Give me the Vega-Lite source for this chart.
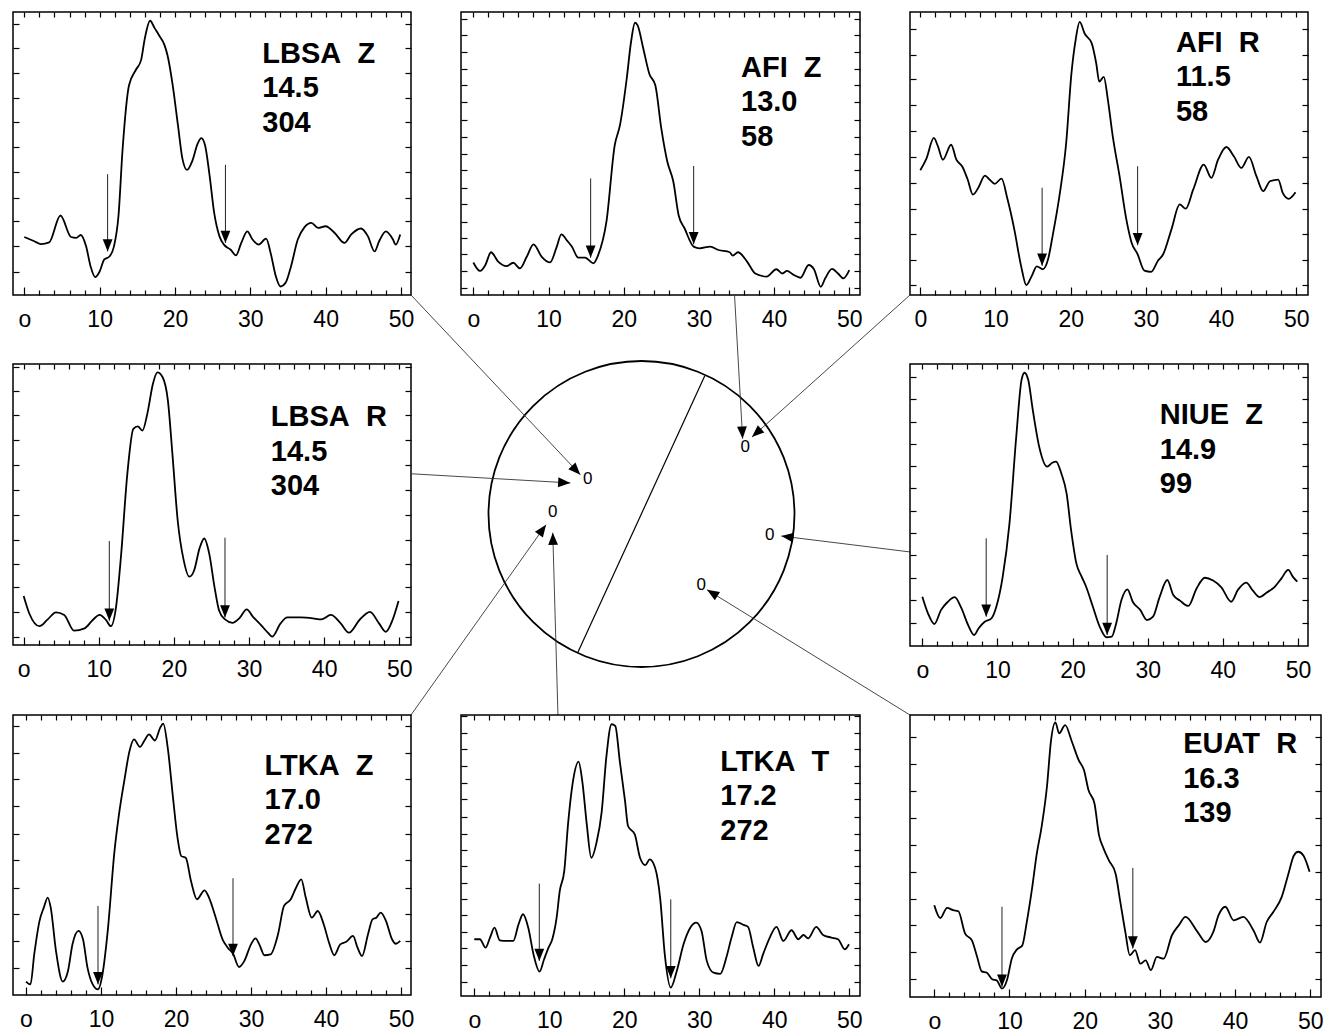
{
"$schema": "https://vega.github.io/schema/vega-lite/v6.json",
"padding": {"left": 11, "top": 10, "right": 5, "bottom": 0},
"background": "white",
"bounds": "flush",
"align": "each",
"columns": 3,
"spacing": {"row": 69, "column": 50},
"config": {
  "view": {"stroke": "black", "strokeWidth": 1.5},
  "axis": {"grid": false, "domain": false, "tickColor": "black", "tickWidth": 1.2, "labelFont": "Liberation Sans", "labelFontSize": 23, "labelColor": "black"}
},
"datasets": {
  "lbsaZ": [{"t":0,"a":20.5},{"t":1.33,"a":19.0},{"t":2.2,"a":18.0},{"t":3.3,"a":18.6},{"t":4.8,"a":28.1},{"t":6.2,"a":20.5},{"t":6.9,"a":20.2},{"t":7.5,"a":21.2},{"t":8.2,"a":17.2},{"t":8.8,"a":10.1},{"t":9.4,"a":6.3},{"t":10.0,"a":8.3},{"t":10.6,"a":12.5},{"t":11.3,"a":13.6},{"t":11.9,"a":17.2},{"t":12.5,"a":27.9},{"t":13.05,"a":51.6},{"t":13.9,"a":74.1},{"t":14.8,"a":79.5},{"t":15.5,"a":83.0},{"t":16.0,"a":90.7},{"t":16.7,"a":96.9},{"t":17.3,"a":94.3},{"t":17.9,"a":91.7},{"t":18.6,"a":88.4},{"t":19.0,"a":84.8},{"t":19.7,"a":74.1},{"t":20.4,"a":59.9},{"t":21.0,"a":48.0},{"t":21.6,"a":44.2},{"t":22.3,"a":47.4},{"t":23.0,"a":53.4},{"t":23.5,"a":55.4},{"t":24.0,"a":52.8},{"t":24.6,"a":42.1},{"t":25.2,"a":29.1},{"t":25.9,"a":20.8},{"t":26.5,"a":17.8},{"t":27.4,"a":16.0},{"t":28.1,"a":14.0},{"t":28.8,"a":18.4},{"t":29.6,"a":22.5},{"t":30.3,"a":19.6},{"t":31.1,"a":17.8},{"t":32.1,"a":19.9},{"t":32.7,"a":14.8},{"t":33.4,"a":6.5},{"t":34.0,"a":3.0},{"t":34.7,"a":4.4},{"t":35.4,"a":10.1},{"t":36.3,"a":19.6},{"t":37.2,"a":24.0},{"t":38.1,"a":25.5},{"t":39.0,"a":23.7},{"t":40.0,"a":24.3},{"t":41.2,"a":21.9},{"t":42.5,"a":18.4},{"t":43.4,"a":21.4},{"t":44.7,"a":23.5},{"t":45.6,"a":20.8},{"t":46.5,"a":15.4},{"t":47.1,"a":19.0},{"t":48.0,"a":22.5},{"t":48.9,"a":19.8},{"t":49.3,"a":17.8},{"t":49.9,"a":21.4}],
  "afiZ": [{"t":0,"a":11.5},{"t":0.9,"a":8.5},{"t":1.6,"a":10.6},{"t":2.35,"a":15.1},{"t":3.3,"a":11.8},{"t":4.4,"a":10.2},{"t":5.3,"a":11.4},{"t":6.2,"a":9.4},{"t":7.1,"a":13.5},{"t":8.0,"a":17.9},{"t":9.1,"a":13.5},{"t":10.2,"a":11.5},{"t":11.1,"a":17.1},{"t":11.7,"a":21.4},{"t":12.5,"a":19.1},{"t":13.1,"a":17.1},{"t":13.96,"a":13.2},{"t":14.85,"a":13.2},{"t":15.96,"a":11.2},{"t":16.6,"a":14.1},{"t":17.7,"a":25.9},{"t":18.8,"a":52.9},{"t":19.5,"a":60.0},{"t":20.4,"a":76.5},{"t":20.97,"a":89.4},{"t":21.5,"a":96.2},{"t":21.85,"a":95.3},{"t":22.6,"a":87.1},{"t":23.4,"a":78.2},{"t":24.2,"a":74.1},{"t":25.0,"a":58.8},{"t":25.8,"a":47.1},{"t":26.6,"a":40.0},{"t":27.3,"a":28.2},{"t":28.1,"a":23.5},{"t":29.3,"a":17.1},{"t":30.1,"a":16.5},{"t":31.5,"a":17.1},{"t":32.6,"a":15.9},{"t":34.1,"a":15.1},{"t":34.5,"a":13.9},{"t":35.2,"a":15.1},{"t":36.4,"a":11.8},{"t":37.5,"a":7.6},{"t":39.0,"a":6.5},{"t":40.3,"a":9.1},{"t":41.1,"a":7.6},{"t":41.7,"a":8.5},{"t":42.6,"a":7.1},{"t":43.5,"a":6.1},{"t":44.6,"a":10.6},{"t":45.3,"a":9.1},{"t":46.2,"a":2.9},{"t":46.8,"a":5.9},{"t":47.7,"a":9.2},{"t":48.5,"a":7.6},{"t":49.2,"a":5.9},{"t":50.0,"a":8.8}],
  "afiR": [{"t":0,"a":44.1},{"t":0.8,"a":48.1},{"t":1.8,"a":55.5},{"t":2.35,"a":52.5},{"t":3.0,"a":47.8},{"t":4.1,"a":53.1},{"t":4.8,"a":47.8},{"t":5.6,"a":45.3},{"t":6.3,"a":40.8},{"t":7.0,"a":35.5},{"t":7.7,"a":37.8},{"t":8.6,"a":42.2},{"t":9.2,"a":40.8},{"t":9.9,"a":39.3},{"t":10.8,"a":41.1},{"t":11.6,"a":33.8},{"t":12.5,"a":23.2},{"t":13.4,"a":10.3},{"t":14.1,"a":3.5},{"t":14.8,"a":6.6},{"t":15.5,"a":10.1},{"t":16.3,"a":9.1},{"t":17.0,"a":12.7},{"t":17.6,"a":20.9},{"t":18.5,"a":34.9},{"t":19.4,"a":53.7},{"t":20.1,"a":78.3},{"t":20.65,"a":90.0},{"t":21.2,"a":96.5},{"t":21.85,"a":92.4},{"t":22.8,"a":88.9},{"t":23.4,"a":81.8},{"t":23.8,"a":75.4},{"t":24.4,"a":77.1},{"t":24.95,"a":68.9},{"t":25.6,"a":56.0},{"t":26.5,"a":42.0},{"t":27.4,"a":26.7},{"t":28.1,"a":18.5},{"t":28.9,"a":14.4},{"t":29.8,"a":8.6},{"t":30.7,"a":8.2},{"t":31.6,"a":12.1},{"t":32.3,"a":14.4},{"t":33.4,"a":23.2},{"t":34.5,"a":32.0},{"t":35.3,"a":30.5},{"t":36.3,"a":37.3},{"t":37.7,"a":46.1},{"t":38.7,"a":41.4},{"t":39.6,"a":47.8},{"t":40.7,"a":52.3},{"t":41.7,"a":49.0},{"t":42.7,"a":44.9},{"t":43.7,"a":48.8},{"t":44.7,"a":42.0},{"t":45.6,"a":36.7},{"t":46.5,"a":40.2},{"t":47.6,"a":40.8},{"t":48.2,"a":36.1},{"t":49.0,"a":34.0},{"t":49.9,"a":36.3}],
  "lbsaR": [{"t":0,"a":17.4},{"t":0.75,"a":11.2},{"t":2.1,"a":6.7},{"t":3.2,"a":9.1},{"t":4.3,"a":11.6},{"t":5.4,"a":10.7},{"t":6.7,"a":5.1},{"t":8.1,"a":5.9},{"t":9.2,"a":8.9},{"t":10.1,"a":10.7},{"t":10.96,"a":8.9},{"t":11.6,"a":6.7},{"t":12.3,"a":13.6},{"t":12.95,"a":31.4},{"t":13.8,"a":60.9},{"t":14.6,"a":76.9},{"t":15.2,"a":77.8},{"t":15.8,"a":76.3},{"t":16.5,"a":82.8},{"t":17.2,"a":92.9},{"t":17.8,"a":97.0},{"t":18.5,"a":95.3},{"t":19.2,"a":87.0},{"t":19.8,"a":68.0},{"t":20.5,"a":44.4},{"t":21.3,"a":30.2},{"t":22.05,"a":24.3},{"t":22.7,"a":26.6},{"t":23.4,"a":34.3},{"t":24.04,"a":37.9},{"t":24.7,"a":32.5},{"t":25.4,"a":20.7},{"t":26.0,"a":12.4},{"t":26.8,"a":9.1},{"t":27.8,"a":7.9},{"t":28.7,"a":9.5},{"t":29.7,"a":12.7},{"t":30.5,"a":10.1},{"t":31.6,"a":7.1},{"t":32.5,"a":4.4},{"t":33.1,"a":3.0},{"t":34.2,"a":7.7},{"t":35.1,"a":9.8},{"t":36.9,"a":9.8},{"t":38.5,"a":9.5},{"t":39.6,"a":9.1},{"t":40.9,"a":10.7},{"t":42.2,"a":7.7},{"t":43.3,"a":4.4},{"t":44.7,"a":8.9},{"t":46.1,"a":11.8},{"t":47.3,"a":7.7},{"t":48.2,"a":4.7},{"t":49.1,"a":8.9},{"t":49.9,"a":15.7}],
  "niueZ": [{"t":0,"a":17.5},{"t":0.75,"a":11.6},{"t":1.6,"a":7.8},{"t":2.5,"a":12.8},{"t":3.4,"a":15.7},{"t":4.3,"a":17.3},{"t":5.2,"a":13.4},{"t":6.1,"a":7.4},{"t":6.9,"a":3.9},{"t":7.5,"a":6.3},{"t":8.3,"a":8.6},{"t":9.2,"a":9.8},{"t":9.85,"a":13.9},{"t":10.7,"a":24.6},{"t":11.6,"a":43.5},{"t":12.5,"a":74.2},{"t":13.2,"a":94.3},{"t":13.6,"a":96.9},{"t":14.1,"a":94.3},{"t":14.7,"a":83.7},{"t":15.6,"a":70.1},{"t":16.6,"a":63.6},{"t":17.3,"a":65.0},{"t":17.8,"a":65.4},{"t":18.5,"a":61.2},{"t":19.2,"a":54.1},{"t":19.8,"a":41.1},{"t":20.5,"a":29.3},{"t":21.2,"a":24.6},{"t":21.8,"a":21.0},{"t":22.7,"a":13.9},{"t":23.6,"a":6.9},{"t":24.5,"a":3.1},{"t":25.2,"a":3.3},{"t":25.8,"a":8.0},{"t":26.5,"a":16.3},{"t":27.3,"a":20.1},{"t":28.0,"a":15.7},{"t":29.0,"a":12.8},{"t":29.9,"a":9.2},{"t":30.7,"a":10.4},{"t":31.6,"a":17.5},{"t":32.6,"a":23.4},{"t":33.4,"a":18.1},{"t":34.3,"a":16.1},{"t":35.4,"a":14.2},{"t":36.5,"a":20.4},{"t":37.6,"a":24.2},{"t":38.7,"a":23.2},{"t":39.8,"a":20.8},{"t":41.1,"a":15.7},{"t":42.0,"a":19.9},{"t":43.1,"a":22.5},{"t":44.0,"a":19.6},{"t":44.9,"a":17.3},{"t":45.8,"a":18.9},{"t":46.9,"a":21.0},{"t":47.8,"a":24.0},{"t":48.7,"a":27.0},{"t":49.3,"a":24.6},{"t":49.9,"a":22.8}],
  "ltkaZ": [{"t":0,"a":4.8},{"t":0.6,"a":3.8},{"t":1.1,"a":14.5},{"t":1.8,"a":26.4},{"t":2.4,"a":31.4},{"t":2.9,"a":34.8},{"t":3.3,"a":31.2},{"t":4.0,"a":15.7},{"t":4.9,"a":4.8},{"t":5.6,"a":8.6},{"t":6.2,"a":18.1},{"t":7.0,"a":22.9},{"t":7.6,"a":19.9},{"t":8.2,"a":9.8},{"t":8.9,"a":3.8},{"t":9.6,"a":2.0},{"t":10.2,"a":7.4},{"t":10.9,"a":22.9},{"t":11.8,"a":51.4},{"t":12.4,"a":64.5},{"t":13.1,"a":76.4},{"t":13.8,"a":87.1},{"t":14.4,"a":91.3},{"t":15.2,"a":88.6},{"t":15.8,"a":90.9},{"t":16.4,"a":93.1},{"t":17.2,"a":90.9},{"t":17.9,"a":95.5},{"t":18.3,"a":96.9},{"t":18.9,"a":88.3},{"t":19.6,"a":70.5},{"t":20.2,"a":56.2},{"t":20.7,"a":49.6},{"t":21.3,"a":49.0},{"t":22.0,"a":40.7},{"t":22.8,"a":34.2},{"t":23.8,"a":37.4},{"t":24.4,"a":34.8},{"t":25.3,"a":27.6},{"t":26.2,"a":19.9},{"t":26.9,"a":16.9},{"t":27.6,"a":14.8},{"t":28.4,"a":10.0},{"t":29.1,"a":12.1},{"t":30.0,"a":18.1},{"t":30.6,"a":20.2},{"t":31.1,"a":18.1},{"t":31.8,"a":14.2},{"t":32.6,"a":14.5},{"t":33.6,"a":21.7},{"t":34.4,"a":31.8},{"t":35.3,"a":34.2},{"t":36.0,"a":38.3},{"t":36.7,"a":41.3},{"t":37.3,"a":34.8},{"t":38.1,"a":27.6},{"t":38.9,"a":30.0},{"t":39.7,"a":25.2},{"t":40.4,"a":18.7},{"t":41.1,"a":14.2},{"t":41.9,"a":18.1},{"t":42.7,"a":19.0},{"t":43.6,"a":21.1},{"t":44.2,"a":16.9},{"t":44.8,"a":13.9},{"t":45.6,"a":21.7},{"t":46.2,"a":27.0},{"t":46.7,"a":27.6},{"t":47.3,"a":29.4},{"t":48.0,"a":26.4},{"t":48.8,"a":19.9},{"t":49.3,"a":18.3},{"t":49.9,"a":19.3}],
  "ltkaT": [{"t":0,"a":20.2},{"t":0.75,"a":20.2},{"t":1.5,"a":17.2},{"t":2.1,"a":20.8},{"t":2.7,"a":24.3},{"t":3.4,"a":19.8},{"t":4.3,"a":19.6},{"t":5.2,"a":19.6},{"t":5.9,"a":25.5},{"t":6.5,"a":29.1},{"t":7.2,"a":24.3},{"t":7.9,"a":14.8},{"t":8.7,"a":8.7},{"t":9.3,"a":13.0},{"t":9.9,"a":17.2},{"t":10.4,"a":20.2},{"t":10.98,"a":27.9},{"t":11.4,"a":37.4},{"t":12.0,"a":44.5},{"t":12.5,"a":61.1},{"t":13.2,"a":77.1},{"t":13.9,"a":83.4},{"t":14.4,"a":76.5},{"t":15.0,"a":61.1},{"t":15.6,"a":49.2},{"t":16.3,"a":54.6},{"t":17.0,"a":65.8},{"t":17.6,"a":84.8},{"t":18.3,"a":96.7},{"t":18.8,"a":96.1},{"t":19.4,"a":83.6},{"t":20.1,"a":69.4},{"t":20.5,"a":60.5},{"t":21.4,"a":57.5},{"t":22.1,"a":49.2},{"t":22.8,"a":46.6},{"t":23.4,"a":48.6},{"t":24.1,"a":45.7},{"t":24.8,"a":34.4},{"t":25.4,"a":14.8},{"t":26.2,"a":3.0},{"t":27.0,"a":8.9},{"t":27.9,"a":18.4},{"t":28.8,"a":24.3},{"t":29.6,"a":26.1},{"t":30.3,"a":23.1},{"t":31.0,"a":12.5},{"t":31.9,"a":8.3},{"t":32.8,"a":7.9},{"t":33.6,"a":13.6},{"t":34.3,"a":20.8},{"t":35.0,"a":26.3},{"t":35.9,"a":25.3},{"t":36.5,"a":24.6},{"t":37.2,"a":17.2},{"t":37.9,"a":10.7},{"t":38.5,"a":14.8},{"t":39.4,"a":20.8},{"t":40.3,"a":24.6},{"t":41.2,"a":19.6},{"t":42.3,"a":23.4},{"t":43.2,"a":20.2},{"t":43.9,"a":21.7},{"t":44.5,"a":20.5},{"t":45.6,"a":24.6},{"t":46.5,"a":21.7},{"t":47.6,"a":20.8},{"t":48.5,"a":20.2},{"t":49.4,"a":16.6},{"t":49.96,"a":18.4}],
  "euatR": [{"t":0,"a":32.5},{"t":0.8,"a":28.0},{"t":1.7,"a":31.6},{"t":2.5,"a":30.8},{"t":3.2,"a":30.4},{"t":4.1,"a":22.5},{"t":5.0,"a":20.1},{"t":5.7,"a":14.2},{"t":6.3,"a":9.1},{"t":7.0,"a":8.6},{"t":7.7,"a":6.3},{"t":8.3,"a":5.9},{"t":9.0,"a":3.0},{"t":9.7,"a":6.3},{"t":10.3,"a":13.6},{"t":11.0,"a":16.9},{"t":11.7,"a":18.3},{"t":12.3,"a":26.6},{"t":13.0,"a":38.5},{"t":13.6,"a":50.3},{"t":14.3,"a":60.9},{"t":15.0,"a":75.1},{"t":15.5,"a":90.5},{"t":16.1,"a":97.4},{"t":16.6,"a":93.5},{"t":17.4,"a":96.4},{"t":18.3,"a":90.5},{"t":19.2,"a":84.0},{"t":19.9,"a":80.5},{"t":20.5,"a":73.4},{"t":21.3,"a":68.6},{"t":21.9,"a":57.4},{"t":22.5,"a":52.7},{"t":23.2,"a":48.5},{"t":24.1,"a":43.8},{"t":24.7,"a":34.3},{"t":25.4,"a":23.1},{"t":26.0,"a":14.8},{"t":26.7,"a":16.6},{"t":27.4,"a":11.8},{"t":28.1,"a":13.0},{"t":28.8,"a":9.5},{"t":29.6,"a":14.2},{"t":30.5,"a":13.6},{"t":31.6,"a":21.9},{"t":32.5,"a":25.4},{"t":33.4,"a":28.4},{"t":35.0,"a":23.1},{"t":36.1,"a":19.5},{"t":37.1,"a":23.1},{"t":37.8,"a":29.0},{"t":38.7,"a":32.0},{"t":39.8,"a":27.2},{"t":41.1,"a":28.4},{"t":42.5,"a":23.3},{"t":43.3,"a":19.3},{"t":44.2,"a":26.6},{"t":45.1,"a":30.2},{"t":46.2,"a":35.5},{"t":47.1,"a":43.8},{"t":47.8,"a":50.1},{"t":48.4,"a":51.5},{"t":49.1,"a":50.1},{"t":49.9,"a":44.4}],
  "arrows": [
    {"p":"LBSA Z","t":11.06,"top":42.7,"tip":15.4},{"p":"LBSA Z","t":26.7,"top":46.0,"tip":18.4},
    {"p":"AFI Z","t":15.6,"top":41.2,"tip":13.2},{"p":"AFI Z","t":29.3,"top":45.6,"tip":17.9},
    {"p":"AFI R","t":16.2,"top":37.9,"tip":10.3},{"p":"AFI R","t":28.9,"top":45.5,"tip":17.6},
    {"p":"LBSA R","t":11.4,"top":37.0,"tip":8.6},{"p":"LBSA R","t":26.8,"top":38.2,"tip":9.8},
    {"p":"NIUE Z","t":8.5,"top":38.2,"tip":10.4},{"p":"NIUE Z","t":24.6,"top":32.3,"tip":3.9},
    {"p":"LTKA Z","t":9.6,"top":31.8,"tip":3.8},{"p":"LTKA Z","t":27.6,"top":41.7,"tip":13.9},
    {"p":"LTKA T","t":8.67,"top":40.0,"tip":12.5},{"p":"LTKA T","t":26.2,"top":34.4,"tip":6.3},
    {"p":"EUAT R","t":9.0,"top":32.0,"tip":3.6},{"p":"EUAT R","t":26.4,"top":45.8,"tip":17.2}
  ],
  "rays": [
    {"r":"LBSA Z","u0":-1.5065,"v0":1.4314,"u1":-0.400,"v1":0.257,"bearing":136.7},
    {"r":"LBSA R","u0":-1.5065,"v0":0.263,"u1":-0.465,"v1":0.203,"bearing":93.3},
    {"r":"AFI Z","u0":0.608,"v0":1.4314,"u1":0.661,"v1":0.492,"bearing":176.8},
    {"r":"AFI R","u0":1.7549,"v0":1.4314,"u1":0.722,"v1":0.503,"bearing":228.0},
    {"r":"NIUE Z","u0":1.7549,"v0":-0.248,"u1":0.914,"v1":-0.144,"bearing":277.0},
    {"r":"EUAT R","u0":1.7549,"v0":-1.3137,"u1":0.428,"v1":-0.495,"bearing":301.7},
    {"r":"LTKA Z","u0":-1.5065,"v0":-1.3137,"u1":-0.624,"v1":-0.070,"bearing":35.4},
    {"r":"LTKA T","u0":-0.546,"v0":-1.3137,"u1":-0.580,"v1":-0.122,"bearing":358.4}
  ],
  "stations": [
    {"s":"LBSA","u":-0.352,"v":0.231},{"s":"LTKA","u":-0.580,"v":0.013},{"s":"AFI","u":0.678,"v":0.438},{"s":"NIUE","u":0.838,"v":-0.139},{"s":"EUAT","u":0.391,"v":-0.466}
  ],
  "plane": [{"u1":0.413,"v1":0.902,"u2":-0.415,"v2":-0.902}]
},
"concat": [
  {"width": 398, "height": 283,
   "layer": [
    {"data": {"name": "lbsaZ"}, "mark": {"type": "line", "interpolate": "monotone", "color": "black", "strokeWidth": 1.8},
     "encoding": {"x": {"field": "t", "type": "quantitative", "scale": {"domain": [-1.5, 51.33], "nice": false}, "axis": {"orient": "bottom", "values": [0,2,4,6,8,10,12,14,16,18,20,22,24,26,28,30,32,34,36,38,40,42,44,46,48,50], "tickSize": {"condition": {"test": "datum.value % 10 === 0", "value": -8}, "value": -5}, "labelExpr": "datum.value % 10 === 0 ? (datum.value === 0 ? 'o' : datum.label) : ''", "labelPadding": 21, "labelOverlap": false, "labelFlush": false, "title": null}},
                  "y": {"field": "a", "type": "quantitative", "scale": {"domain": [0, 100], "nice": false}, "axis": {"orient": "left", "values": [95.7,87.2,78.3,69.6,61.1,52.2,43.3,34.4,26.1,17.2,8.3], "tickSize": -6, "labels": false, "title": null}}}},
    {"data": {"name": "arrows"}, "transform": [{"filter": "datum.p === 'LBSA Z'"}], "mark": {"type": "rule", "color": "#222", "strokeWidth": 1},
     "encoding": {"x": {"field": "t", "type": "quantitative", "axis": {"orient": "top", "values": [0,2,4,6,8,10,12,14,16,18,20,22,24,26,28,30,32,34,36,38,40,42,44,46,48,50], "tickSize": -5, "labels": false, "title": null}},
                  "y": {"field": "top", "type": "quantitative", "axis": {"orient": "right", "values": [95.7,87.2,78.3,69.6,61.1,52.2,43.3,34.4,26.1,17.2,8.3], "tickSize": -6, "labels": false, "title": null}}, "y2": {"field": "tip"}}},
    {"data": {"name": "arrows"}, "transform": [{"filter": "datum.p === 'LBSA Z'"}], "mark": {"type": "point", "shape": "M0,0L-0.4,-1L0.4,-1Z", "filled": true, "color": "black", "opacity": 1, "size": 600},
     "encoding": {"x": {"field": "t", "type": "quantitative", "axis": null}, "y": {"field": "tip", "type": "quantitative", "axis": null}}},
    {"data": {"values": [{}]}, "mark": {"type": "text", "text": ["LBSA\u00a0\u00a0Z", "14.5", "304"], "align": "left", "baseline": "alphabetic", "font": "Liberation Sans", "fontWeight": "bold", "fontSize": 29, "lineHeight": 34.5, "color": "black"},
     "encoding": {"x": {"datum": 31.6, "type": "quantitative", "axis": null}, "y": {"datum": 82.1, "type": "quantitative", "axis": null}}}
   ],
   "resolve": {"axis": {"x": "independent", "y": "independent"}}},
  {"width": 399, "height": 283,
   "layer": [
    {"data": {"name": "afiZ"}, "mark": {"type": "line", "interpolate": "monotone", "color": "black", "strokeWidth": 1.8},
     "encoding": {"x": {"field": "t", "type": "quantitative", "scale": {"domain": [-1.64, 51.42], "nice": false}, "axis": {"orient": "bottom", "values": [0,2,4,6,8,10,12,14,16,18,20,22,24,26,28,30,32,34,36,38,40,42,44,46,48,50], "tickSize": {"condition": {"test": "datum.value % 10 === 0", "value": -8}, "value": -5}, "labelExpr": "datum.value % 10 === 0 ? (datum.value === 0 ? 'o' : datum.label) : ''", "labelPadding": 21, "labelOverlap": false, "labelFlush": false, "title": null}},
                  "y": {"field": "a", "type": "quantitative", "scale": {"domain": [0, 100], "nice": false}, "axis": {"orient": "left", "values": [97.6,91.8,85.9,80.0,74.1,68.2,61.8,55.9,50.0,44.1,37.9,32.0,25.9,20.0,14.4,8.5,2.6], "tickSize": -6, "labels": false, "title": null}}}},
    {"data": {"name": "arrows"}, "transform": [{"filter": "datum.p === 'AFI Z'"}], "mark": {"type": "rule", "color": "#222", "strokeWidth": 1},
     "encoding": {"x": {"field": "t", "type": "quantitative", "axis": {"orient": "top", "values": [0,2,4,6,8,10,12,14,16,18,20,22,24,26,28,30,32,34,36,38,40,42,44,46,48,50], "tickSize": -5, "labels": false, "title": null}},
                  "y": {"field": "top", "type": "quantitative", "axis": {"orient": "right", "values": [97.6,91.8,85.9,80.0,74.1,68.2,61.8,55.9,50.0,44.1,37.9,32.0,25.9,20.0,14.4,8.5,2.6], "tickSize": -6, "labels": false, "title": null}}, "y2": {"field": "tip"}}},
    {"data": {"name": "arrows"}, "transform": [{"filter": "datum.p === 'AFI Z'"}], "mark": {"type": "point", "shape": "M0,0L-0.4,-1L0.4,-1Z", "filled": true, "color": "black", "opacity": 1, "size": 600},
     "encoding": {"x": {"field": "t", "type": "quantitative", "axis": null}, "y": {"field": "tip", "type": "quantitative", "axis": null}}},
    {"data": {"values": [{}]}, "mark": {"type": "text", "text": ["AFI\u00a0\u00a0Z", "13.0", "58"], "align": "left", "baseline": "alphabetic", "font": "Liberation Sans", "fontWeight": "bold", "fontSize": 29, "lineHeight": 34.5, "color": "black"},
     "encoding": {"x": {"datum": 35.6, "type": "quantitative", "axis": null}, "y": {"datum": 77.1, "type": "quantitative", "axis": null}}}
   ],
   "resolve": {"axis": {"x": "independent", "y": "independent"}}},
  {"width": 398, "height": 283,
   "layer": [
    {"data": {"name": "afiR"}, "mark": {"type": "line", "interpolate": "monotone", "color": "black", "strokeWidth": 1.8},
     "encoding": {"x": {"field": "t", "type": "quantitative", "scale": {"domain": [-1.37, 51.56], "nice": false}, "axis": {"orient": "bottom", "values": [0,2,4,6,8,10,12,14,16,18,20,22,24,26,28,30,32,34,36,38,40,42,44,46,48,50], "tickSize": {"condition": {"test": "datum.value % 10 === 0", "value": -8}, "value": -5}, "labelExpr": "datum.value % 10 === 0 ? datum.label : ''", "labelPadding": 21, "labelOverlap": false, "labelFlush": false, "title": null}},
                  "y": {"field": "a", "type": "quantitative", "scale": {"domain": [0, 100], "nice": false}, "axis": {"orient": "left", "values": [94.1,84.8,76.2,67.2,58.0,48.8,39.6,30.5,21.7,12.4,3.5], "tickSize": -6, "labels": false, "title": null}}}},
    {"data": {"name": "arrows"}, "transform": [{"filter": "datum.p === 'AFI R'"}], "mark": {"type": "rule", "color": "#222", "strokeWidth": 1},
     "encoding": {"x": {"field": "t", "type": "quantitative", "axis": {"orient": "top", "values": [0,2,4,6,8,10,12,14,16,18,20,22,24,26,28,30,32,34,36,38,40,42,44,46,48,50], "tickSize": -5, "labels": false, "title": null}},
                  "y": {"field": "top", "type": "quantitative", "axis": {"orient": "right", "values": [94.1,84.8,76.2,67.2,58.0,48.8,39.6,30.5,21.7,12.4,3.5], "tickSize": -6, "labels": false, "title": null}}, "y2": {"field": "tip"}}},
    {"data": {"name": "arrows"}, "transform": [{"filter": "datum.p === 'AFI R'"}], "mark": {"type": "point", "shape": "M0,0L-0.4,-1L0.4,-1Z", "filled": true, "color": "black", "opacity": 1, "size": 600},
     "encoding": {"x": {"field": "t", "type": "quantitative", "axis": null}, "y": {"field": "tip", "type": "quantitative", "axis": null}}},
    {"data": {"values": [{}]}, "mark": {"type": "text", "text": ["AFI\u00a0\u00a0R", "11.5", "58"], "align": "left", "baseline": "alphabetic", "font": "Liberation Sans", "fontWeight": "bold", "fontSize": 29, "lineHeight": 34.5, "color": "black"},
     "encoding": {"x": {"datum": 34.0, "type": "quantitative", "axis": null}, "y": {"datum": 85.9, "type": "quantitative", "axis": null}}}
   ],
   "resolve": {"axis": {"x": "independent", "y": "independent"}}},
  {"width": 398, "height": 281,
   "layer": [
    {"data": {"name": "lbsaR"}, "mark": {"type": "line", "interpolate": "monotone", "color": "black", "strokeWidth": 1.8},
     "encoding": {"x": {"field": "t", "type": "quantitative", "scale": {"domain": [-1.42, 51.56], "nice": false}, "axis": {"orient": "bottom", "values": [0,2,4,6,8,10,12,14,16,18,20,22,24,26,28,30,32,34,36,38,40,42,44,46,48,50], "tickSize": {"condition": {"test": "datum.value % 10 === 0", "value": -8}, "value": -5}, "labelExpr": "datum.value % 10 === 0 ? (datum.value === 0 ? 'o' : datum.label) : ''", "labelPadding": 21, "labelOverlap": false, "labelFlush": false, "title": null}},
                  "y": {"field": "a", "type": "quantitative", "scale": {"domain": [0, 100], "nice": false}, "axis": {"orient": "left", "values": [98.8,90.5,81.7,72.8,63.9,55.3,46.2,37.5,29.0,20.5,11.6,3.0], "tickSize": -6, "labels": false, "title": null}}}},
    {"data": {"name": "arrows"}, "transform": [{"filter": "datum.p === 'LBSA R'"}], "mark": {"type": "rule", "color": "#222", "strokeWidth": 1},
     "encoding": {"x": {"field": "t", "type": "quantitative", "axis": {"orient": "top", "values": [0,2,4,6,8,10,12,14,16,18,20,22,24,26,28,30,32,34,36,38,40,42,44,46,48,50], "tickSize": -5, "labels": false, "title": null}},
                  "y": {"field": "top", "type": "quantitative", "axis": {"orient": "right", "values": [98.8,90.5,81.7,72.8,63.9,55.3,46.2,37.5,29.0,20.5,11.6,3.0], "tickSize": -6, "labels": false, "title": null}}, "y2": {"field": "tip"}}},
    {"data": {"name": "arrows"}, "transform": [{"filter": "datum.p === 'LBSA R'"}], "mark": {"type": "point", "shape": "M0,0L-0.4,-1L0.4,-1Z", "filled": true, "color": "black", "opacity": 1, "size": 600},
     "encoding": {"x": {"field": "t", "type": "quantitative", "axis": null}, "y": {"field": "tip", "type": "quantitative", "axis": null}}},
    {"data": {"values": [{}]}, "mark": {"type": "text", "text": ["LBSA\u00a0\u00a0R", "14.5", "304"], "align": "left", "baseline": "alphabetic", "font": "Liberation Sans", "fontWeight": "bold", "fontSize": 29, "lineHeight": 34.5, "color": "black"},
     "encoding": {"x": {"datum": 32.9, "type": "quantitative", "axis": null}, "y": {"datum": 77.8, "type": "quantitative", "axis": null}}}
   ],
   "resolve": {"axis": {"x": "independent", "y": "independent"}}},
  {"width": 399, "height": 282, "view": {"stroke": null},
   "layer": [
    {"data": {"values": [{}]}, "mark": {"type": "point", "shape": "circle", "filled": false, "size": 93636, "stroke": "black", "strokeWidth": 1.8, "opacity": 1},
     "encoding": {"x": {"datum": 0, "type": "quantitative", "scale": {"domain": [-1.1797, 1.4281], "nice": false}, "axis": null},
                  "y": {"datum": 0, "type": "quantitative", "scale": {"domain": [-0.8627, 0.9804], "nice": false}, "axis": null}}},
    {"data": {"name": "plane"}, "mark": {"type": "rule", "color": "black", "strokeWidth": 1.2},
     "encoding": {"x": {"field": "u1", "type": "quantitative", "axis": null}, "y": {"field": "v1", "type": "quantitative", "axis": null}, "x2": {"field": "u2"}, "y2": {"field": "v2"}}},
    {"data": {"name": "rays"}, "mark": {"type": "rule", "color": "#333", "strokeWidth": 0.9},
     "encoding": {"x": {"field": "u0", "type": "quantitative", "axis": null}, "y": {"field": "v0", "type": "quantitative", "axis": null}, "x2": {"field": "u1"}, "y2": {"field": "v1"}}},
    {"data": {"name": "rays"}, "mark": {"type": "point", "shape": "M0,0L-0.4,1L0.4,1Z", "filled": true, "color": "black", "opacity": 1, "size": 600},
     "encoding": {"x": {"field": "u1", "type": "quantitative", "axis": null}, "y": {"field": "v1", "type": "quantitative", "axis": null}, "angle": {"field": "bearing", "type": "quantitative", "scale": null}}},
    {"data": {"name": "stations"}, "mark": {"type": "text", "text": "0", "font": "Liberation Sans", "fontSize": 17, "align": "center", "baseline": "middle", "color": "black"},
     "encoding": {"x": {"field": "u", "type": "quantitative", "axis": null}, "y": {"field": "v", "type": "quantitative", "axis": null}}}
   ]},
  {"width": 398, "height": 282,
   "layer": [
    {"data": {"name": "niueZ"}, "mark": {"type": "line", "interpolate": "monotone", "color": "black", "strokeWidth": 1.8},
     "encoding": {"x": {"field": "t", "type": "quantitative", "scale": {"domain": [-1.64, 51.33], "nice": false}, "axis": {"orient": "bottom", "values": [0,2,4,6,8,10,12,14,16,18,20,22,24,26,28,30,32,34,36,38,40,42,44,46,48,50], "tickSize": {"condition": {"test": "datum.value % 10 === 0", "value": -8}, "value": -5}, "labelExpr": "datum.value % 10 === 0 ? (datum.value === 0 ? 'o' : datum.label) : ''", "labelPadding": 21, "labelOverlap": false, "labelFlush": false, "title": null}},
                  "y": {"field": "a", "type": "quantitative", "scale": {"domain": [0, 100], "nice": false}, "axis": {"orient": "left", "values": [95.5,87.5,79.6,71.6,63.8,55.9,47.9,40.0,32.3,24.2,16.3,8.3], "tickSize": -6, "labels": false, "title": null}}}},
    {"data": {"name": "arrows"}, "transform": [{"filter": "datum.p === 'NIUE Z'"}], "mark": {"type": "rule", "color": "#222", "strokeWidth": 1},
     "encoding": {"x": {"field": "t", "type": "quantitative", "axis": {"orient": "top", "values": [0,2,4,6,8,10,12,14,16,18,20,22,24,26,28,30,32,34,36,38,40,42,44,46,48,50], "tickSize": -5, "labels": false, "title": null}},
                  "y": {"field": "top", "type": "quantitative", "axis": {"orient": "right", "values": [95.5,87.5,79.6,71.6,63.8,55.9,47.9,40.0,32.3,24.2,16.3,8.3], "tickSize": -6, "labels": false, "title": null}}, "y2": {"field": "tip"}}},
    {"data": {"name": "arrows"}, "transform": [{"filter": "datum.p === 'NIUE Z'"}], "mark": {"type": "point", "shape": "M0,0L-0.4,-1L0.4,-1Z", "filled": true, "color": "black", "opacity": 1, "size": 600},
     "encoding": {"x": {"field": "t", "type": "quantitative", "axis": null}, "y": {"field": "tip", "type": "quantitative", "axis": null}}},
    {"data": {"values": [{}]}, "mark": {"type": "text", "text": ["NIUE\u00a0\u00a0Z", "14.9", "99"], "align": "left", "baseline": "alphabetic", "font": "Liberation Sans", "fontWeight": "bold", "fontSize": 29, "lineHeight": 34.5, "color": "black"},
     "encoding": {"x": {"datum": 31.6, "type": "quantitative", "axis": null}, "y": {"datum": 78.7, "type": "quantitative", "axis": null}}}
   ],
   "resolve": {"axis": {"x": "independent", "y": "independent"}}},
  {"width": 398, "height": 280,
   "layer": [
    {"data": {"name": "ltkaZ"}, "mark": {"type": "line", "interpolate": "monotone", "color": "black", "strokeWidth": 1.8},
     "encoding": {"x": {"field": "t", "type": "quantitative", "scale": {"domain": [-1.73, 51.33], "nice": false}, "axis": {"orient": "bottom", "values": [0,2,4,6,8,10,12,14,16,18,20,22,24,26,28,30,32,34,36,38,40,42,44,46,48,50], "tickSize": {"condition": {"test": "datum.value % 10 === 0", "value": -8}, "value": -5}, "labelExpr": "datum.value % 10 === 0 ? (datum.value === 0 ? 'o' : datum.label) : ''", "labelPadding": 21, "labelOverlap": false, "labelFlush": false, "title": null}},
                  "y": {"field": "a", "type": "quantitative", "scale": {"domain": [0, 100], "nice": false}, "axis": {"orient": "left", "values": [96.1,86.5,77.0,67.5,57.6,48.1,38.3,29.0,19.3,9.8], "tickSize": -6, "labels": false, "title": null}}}},
    {"data": {"name": "arrows"}, "transform": [{"filter": "datum.p === 'LTKA Z'"}], "mark": {"type": "rule", "color": "#222", "strokeWidth": 1},
     "encoding": {"x": {"field": "t", "type": "quantitative", "axis": {"orient": "top", "values": [0,2,4,6,8,10,12,14,16,18,20,22,24,26,28,30,32,34,36,38,40,42,44,46,48,50], "tickSize": -5, "labels": false, "title": null}},
                  "y": {"field": "top", "type": "quantitative", "axis": {"orient": "right", "values": [96.1,86.5,77.0,67.5,57.6,48.1,38.3,29.0,19.3,9.8], "tickSize": -6, "labels": false, "title": null}}, "y2": {"field": "tip"}}},
    {"data": {"name": "arrows"}, "transform": [{"filter": "datum.p === 'LTKA Z'"}], "mark": {"type": "point", "shape": "M0,0L-0.4,-1L0.4,-1Z", "filled": true, "color": "black", "opacity": 1, "size": 600},
     "encoding": {"x": {"field": "t", "type": "quantitative", "axis": null}, "y": {"field": "tip", "type": "quantitative", "axis": null}}},
    {"data": {"values": [{}]}, "mark": {"type": "text", "text": ["LTKA\u00a0\u00a0Z", "17.0", "272"], "align": "left", "baseline": "alphabetic", "font": "Liberation Sans", "fontWeight": "bold", "fontSize": 29, "lineHeight": 34.5, "color": "black"},
     "encoding": {"x": {"datum": 31.8, "type": "quantitative", "axis": null}, "y": {"datum": 78.6, "type": "quantitative", "axis": null}}}
   ],
   "resolve": {"axis": {"x": "independent", "y": "independent"}}},
  {"width": 399, "height": 281,
   "layer": [
    {"data": {"name": "ltkaT"}, "mark": {"type": "line", "interpolate": "monotone", "color": "black", "strokeWidth": 1.8},
     "encoding": {"x": {"field": "t", "type": "quantitative", "scale": {"domain": [-1.77, 51.43], "nice": false}, "axis": {"orient": "bottom", "values": [0,2,4,6,8,10,12,14,16,18,20,22,24,26,28,30,32,34,36,38,40,42,44,46,48,50], "tickSize": {"condition": {"test": "datum.value % 10 === 0", "value": -8}, "value": -5}, "labelExpr": "datum.value % 10 === 0 ? (datum.value === 0 ? 'o' : datum.label) : ''", "labelPadding": 21, "labelOverlap": false, "labelFlush": false, "title": null}},
                  "y": {"field": "a", "type": "quantitative", "scale": {"domain": [0, 100], "nice": false}, "axis": {"orient": "left", "values": [99.6,93.7,87.8,81.9,75.9,70.0,63.7,57.8,51.8,46.3,40.3,34.4,28.8,22.9,17.0,11.0,5.1], "tickSize": -6, "labels": false, "title": null}}}},
    {"data": {"name": "arrows"}, "transform": [{"filter": "datum.p === 'LTKA T'"}], "mark": {"type": "rule", "color": "#222", "strokeWidth": 1},
     "encoding": {"x": {"field": "t", "type": "quantitative", "axis": {"orient": "top", "values": [0,2,4,6,8,10,12,14,16,18,20,22,24,26,28,30,32,34,36,38,40,42,44,46,48,50], "tickSize": -5, "labels": false, "title": null}},
                  "y": {"field": "top", "type": "quantitative", "axis": {"orient": "right", "values": [99.6,93.7,87.8,81.9,75.9,70.0,63.7,57.8,51.8,46.3,40.3,34.4,28.8,22.9,17.0,11.0,5.1], "tickSize": -6, "labels": false, "title": null}}, "y2": {"field": "tip"}}},
    {"data": {"name": "arrows"}, "transform": [{"filter": "datum.p === 'LTKA T'"}], "mark": {"type": "point", "shape": "M0,0L-0.4,-1L0.4,-1Z", "filled": true, "color": "black", "opacity": 1, "size": 600},
     "encoding": {"x": {"field": "t", "type": "quantitative", "axis": null}, "y": {"field": "tip", "type": "quantitative", "axis": null}}},
    {"data": {"values": [{}]}, "mark": {"type": "text", "text": ["LTKA\u00a0\u00a0T", "17.2", "272"], "align": "left", "baseline": "alphabetic", "font": "Liberation Sans", "fontWeight": "bold", "fontSize": 29, "lineHeight": 34.5, "color": "black"},
     "encoding": {"x": {"datum": 32.8, "type": "quantitative", "axis": null}, "y": {"datum": 80.1, "type": "quantitative", "axis": null}}}
   ],
   "resolve": {"axis": {"x": "independent", "y": "independent"}}},
  {"width": 411, "height": 282,
   "layer": [
    {"data": {"name": "euatR"}, "mark": {"type": "line", "interpolate": "monotone", "color": "black", "strokeWidth": 1.8},
     "encoding": {"x": {"field": "t", "type": "quantitative", "scale": {"domain": [-3.23, 51.42], "nice": false}, "axis": {"orient": "bottom", "values": [0,2,4,6,8,10,12,14,16,18,20,22,24,26,28,30,32,34,36,38,40,42,44,46,48,50], "tickSize": {"condition": {"test": "datum.value % 10 === 0", "value": -8}, "value": -5}, "labelExpr": "datum.value % 10 === 0 ? (datum.value === 0 ? 'o' : datum.label) : ''", "labelPadding": 21, "labelOverlap": false, "labelFlush": false, "title": null}},
                  "y": {"field": "a", "type": "quantitative", "scale": {"domain": [0, 100], "nice": false}, "axis": {"orient": "left", "values": [92.3,82.8,73.1,63.6,53.8,44.4,34.9,25.4,16.0,6.3], "tickSize": -6, "labels": false, "title": null}}}},
    {"data": {"name": "arrows"}, "transform": [{"filter": "datum.p === 'EUAT R'"}], "mark": {"type": "rule", "color": "#222", "strokeWidth": 1},
     "encoding": {"x": {"field": "t", "type": "quantitative", "axis": {"orient": "top", "values": [0,2,4,6,8,10,12,14,16,18,20,22,24,26,28,30,32,34,36,38,40,42,44,46,48,50], "tickSize": -5, "labels": false, "title": null}},
                  "y": {"field": "top", "type": "quantitative", "axis": {"orient": "right", "values": [92.3,82.8,73.1,63.6,53.8,44.4,34.9,25.4,16.0,6.3], "tickSize": -6, "labels": false, "title": null}}, "y2": {"field": "tip"}}},
    {"data": {"name": "arrows"}, "transform": [{"filter": "datum.p === 'EUAT R'"}], "mark": {"type": "point", "shape": "M0,0L-0.4,-1L0.4,-1Z", "filled": true, "color": "black", "opacity": 1, "size": 600},
     "encoding": {"x": {"field": "t", "type": "quantitative", "axis": null}, "y": {"field": "tip", "type": "quantitative", "axis": null}}},
    {"data": {"values": [{}]}, "mark": {"type": "text", "text": ["EUAT\u00a0\u00a0R", "16.3", "139"], "align": "left", "baseline": "alphabetic", "font": "Liberation Sans", "fontWeight": "bold", "fontSize": 29, "lineHeight": 34.5, "color": "black"},
     "encoding": {"x": {"datum": 33.1, "type": "quantitative", "axis": null}, "y": {"datum": 86.4, "type": "quantitative", "axis": null}}}
   ],
   "resolve": {"axis": {"x": "independent", "y": "independent"}}}
]
}
